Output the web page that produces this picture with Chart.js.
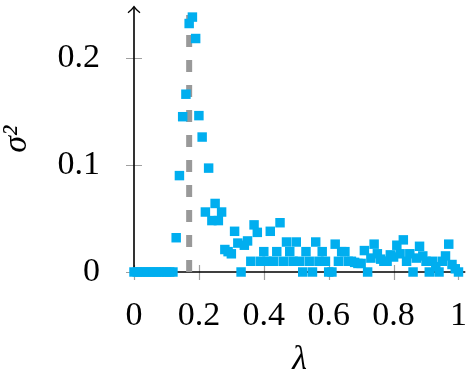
<!DOCTYPE html>
<html>
<head>
<meta charset="utf-8">
<script src="https://cdn.jsdelivr.net/npm/chart.js@4"></script>
<style>
  html, body { margin: 0; padding: 0; background: #fff; }
  #wrap { width: 472px; height: 375px; }
</style>
</head>
<body>
<div id="wrap"><canvas id="plot" width="472" height="375"></canvas></div>
<script>
// lambda sampled every 0.01 from 0 to 1
const lambdas = [
  0.00, 0.01, 0.02, 0.03, 0.04, 0.05, 0.06, 0.07, 0.08, 0.09,
  0.10, 0.11, 0.12, 0.13, 0.14, 0.15, 0.16, 0.17, 0.18, 0.19,
  0.20, 0.21, 0.22, 0.23, 0.24, 0.25, 0.26, 0.27, 0.28, 0.29,
  0.30, 0.31, 0.32, 0.33, 0.34, 0.35, 0.36, 0.37, 0.38, 0.39,
  0.40, 0.41, 0.42, 0.43, 0.44, 0.45, 0.46, 0.47, 0.48, 0.49,
  0.50, 0.51, 0.52, 0.53, 0.54, 0.55, 0.56, 0.57, 0.58, 0.59,
  0.60, 0.61, 0.62, 0.63, 0.64, 0.65, 0.66, 0.67, 0.68, 0.69,
  0.70, 0.71, 0.72, 0.73, 0.74, 0.75, 0.76, 0.77, 0.78, 0.79,
  0.80, 0.81, 0.82, 0.83, 0.84, 0.85, 0.86, 0.87, 0.88, 0.89,
  0.90, 0.91, 0.92, 0.93, 0.94, 0.95, 0.96, 0.97, 0.98, 0.99,
  1.00
];
const variances = [
  0, 0, 0, 0, 0, 0, 0, 0, 0, 0,
  0, 0, 0, 0.032, 0.090, 0.145, 0.166, 0.232, 0.238, 0.218,
  0.146, 0.126, 0.056, 0.097, 0.048, 0.064, 0.048, 0.056, 0.021, 0.019,
  0.017, 0.038, 0.027, 0.000, 0.025, 0.029, 0.010, 0.044, 0.037, 0.010,
  0.019, 0.010, 0.038, 0.010, 0.019, 0.046, 0.010, 0.028, 0.019, 0.010,
  0.028, 0.010, 0.000, 0.019, 0.010, 0.000, 0.028, 0.010, 0.019, 0.010,
  0.000, 0.000, 0.026, 0.010, 0.019, 0.019, 0.010, 0.010, 0.009, 0.008,
  0.008, 0.020, 0.000, 0.013, 0.026, 0.017, 0.012, 0.010, 0.010, 0.016,
  0.014, 0.025, 0.017, 0.030, 0.010, 0.017, 0.000, 0.013, 0.024, 0.015,
  0.010, 0.000, 0.010, 0.005, 0.000, 0.010, 0.015, 0.026, 0.007, 0.003,
  0.000
];
// vertical dashed marker
const markerLambda = 0.17;
const markerTop = 0.24;

const xTicks = [0, 0.2, 0.4, 0.6, 0.8, 1];
const xTickLabels = ["0", "0.2", "0.4", "0.6", "0.8", "1"];
const yTicks = [0, 0.1, 0.2];
const yTickLabels = ["0", "0.1", "0.2"];

const serif = "'Liberation Serif', 'DejaVu Serif', serif";

// tick marks crossing the axes, axis lines, arrow on the y axis
const axisLines = {
  id: "axisLines",
  beforeDatasetsDraw(chart) {
    const ctx = chart.ctx;
    const area = chart.chartArea;
    const xs = chart.scales.x, ys = chart.scales.y;
    const x0 = xs.getPixelForValue(0);
    const y0 = ys.getPixelForValue(0);
    ctx.save();
    ctx.strokeStyle = "#a0a0a0";
    ctx.lineWidth = 1.2;
    ctx.beginPath();
    xTicks.forEach(v => {
      const px = Math.round(xs.getPixelForValue(v)) + 0.5;
      ctx.moveTo(px, y0 - 7);
      ctx.lineTo(px, y0 + 8);
    });
    yTicks.forEach(v => {
      const py = Math.round(ys.getPixelForValue(v)) + 0.5;
      ctx.moveTo(x0 - 8, py);
      ctx.lineTo(x0 + 8, py);
    });
    ctx.stroke();

    ctx.strokeStyle = "#000";
    ctx.lineWidth = 1.6;
    ctx.beginPath();
    ctx.moveTo(x0, y0);
    ctx.lineTo(area.right, y0);
    ctx.moveTo(x0, y0);
    ctx.lineTo(x0, area.top);
    ctx.stroke();

    ctx.lineWidth = 1.3;
    ctx.beginPath();
    ctx.moveTo(x0 - 6, area.top + 6);
    ctx.quadraticCurveTo(x0 - 1.5, area.top + 2.5, x0, area.top);
    ctx.quadraticCurveTo(x0 + 1.5, area.top + 2.5, x0 + 6, area.top + 6);
    ctx.stroke();
    ctx.restore();
  }
};

function noPad(s) {
  s.paddingTop = 0;
  s.paddingBottom = 0;
  s.paddingLeft = 0;
  s.paddingRight = 0;
}

const ctx = document.getElementById("plot").getContext("2d");
new Chart(ctx, {
  type: "scatter",
  data: {
    datasets: [{
      label: "variance",
      data: lambdas.map((l, i) => ({ x: l, y: variances[i] })),
      pointStyle: "rect",
      pointRadius: 6.7,
      pointBackgroundColor: "rgb(0,174,239)",
      pointBorderWidth: 0,
      clip: false
    }, {
      label: "marker",
      data: [{ x: markerLambda, y: 0 }, { x: markerLambda, y: markerTop }],
      showLine: true,
      borderColor: "#999999",
      borderWidth: 6,
      borderDash: [12, 13],
      borderCapStyle: "butt",
      pointRadius: 0,
      clip: false
    }]
  },
  options: {
    responsive: false,
    animation: false,
    layout: { padding: { top: 2, right: 0, bottom: 0, left: 0 } },
    plugins: {
      legend: { display: false },
      tooltip: { enabled: false }
    },
    scales: {
      x: {
        type: "linear",
        min: 0,
        max: 1.021,
        afterBuildTicks: s => { s.ticks = xTicks.map(v => ({ value: v })); },
        afterFit: s => { s.height = 103; noPad(s); },
        grid: { display: false },
        border: { display: false },
        ticks: {
          color: "#000",
          font: { family: serif, size: 34 },
          padding: 16,
          maxRotation: 0,
          autoSkip: false,
          callback: (v, i) => xTickLabels[i]
        },
        title: {
          display: true,
          text: "λ",
          color: "#000",
          font: { family: serif, size: 34, style: "italic" },
          padding: { top: 0, bottom: -5 }
        }
      },
      y: {
        type: "linear",
        min: 0,
        max: 0.2477,
        afterBuildTicks: s => { s.ticks = yTicks.map(v => ({ value: v })); },
        afterFit: s => { s.width = 134; noPad(s); },
        grid: { display: false },
        border: { display: false },
        ticks: {
          color: "#000",
          font: { family: serif, size: 34 },
          padding: 26,
          autoSkip: false,
          callback: (v, i) => yTickLabels[i]
        },
        title: {
          display: true,
          text: "σ²",
          color: "#000",
          font: { family: serif, size: 34, style: "italic" },
          padding: { top: -3, bottom: 0 }
        }
      }
    }
  },
  plugins: [axisLines]
});
</script>
</body>
</html>
